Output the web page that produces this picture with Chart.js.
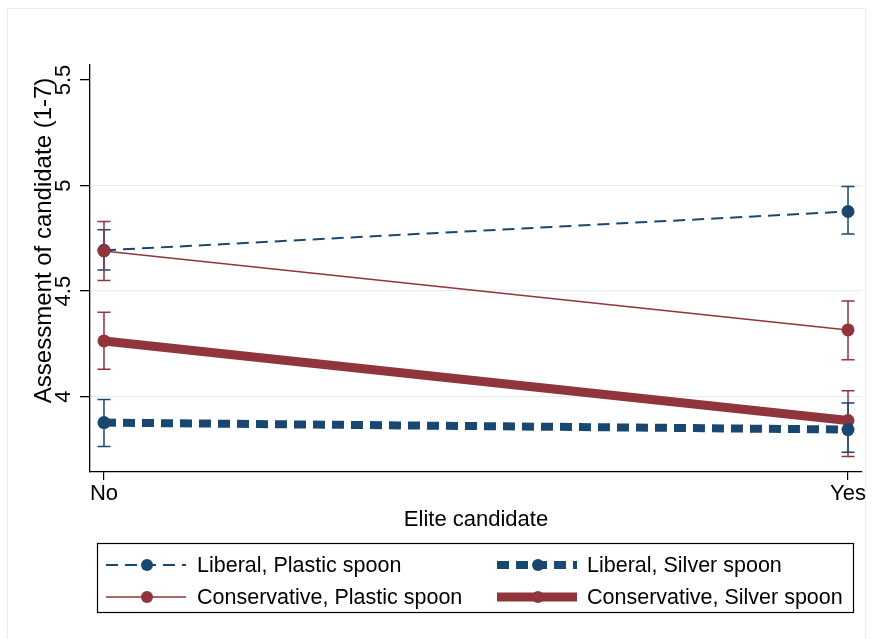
<!DOCTYPE html>
<html>
<head>
<meta charset="utf-8">
<script src="https://cdn.jsdelivr.net/npm/chart.js@4.4.1/dist/chart.umd.min.js"></script>
<style>
  body { margin: 0; background: #fff; }
  #wrap { width: 873px; height: 639px; }
</style>
</head>
<body>
<div id="wrap"><canvas id="chart" width="873" height="639"></canvas></div>
<script>
// categories on the x axis
const categories = ['No', 'Yes'];
const yTicks = [4, 4.5, 5, 5.5];

// means and 95% CI per group
const libPlastic = [4.693, 4.877];
const libPlasticLo = [4.60, 4.77];
const libPlasticHi = [4.79, 4.995];

const consPlastic = [4.69, 4.316];
const consPlasticLo = [4.55, 4.175];
const consPlasticHi = [4.83, 4.453];

const consSilver = [4.264, 3.887];
const consSilverLo = [4.13, 3.717];
const consSilverHi = [4.40, 4.028];

const libSilver = [3.877, 3.844];
const libSilverLo = [3.764, 3.736];
const libSilverHi = [3.986, 3.97];

const NAVY = '#1a476f';
const MAROON = '#90353b';
const FONT = '"Liberation Sans", Arial, Helvetica, sans-serif';

function toPoints(vals) {
    return vals.map((v, i) => ({ x: i, y: v }));
}

const series = [
    { label: 'Liberal, Plastic spoon', data: libPlastic, lo: libPlasticLo, hi: libPlasticHi, color: NAVY, width: 2, dash: [12, 7] },
    { label: 'Conservative, Plastic spoon', data: consPlastic, lo: consPlasticLo, hi: consPlasticHi, color: MAROON, width: 1.6, dash: [] },
    { label: 'Conservative, Silver spoon', data: consSilver, lo: consSilverLo, hi: consSilverHi, color: MAROON, width: 9, dash: [] },
    { label: 'Liberal, Silver spoon', data: libSilver, lo: libSilverLo, hi: libSilverHi, color: NAVY, width: 8, dash: [12, 7] }
];

// legend order as in the picture (2 columns)
const legendOrder = [0, 3, 1, 2];

const datasets = series.map((s, i) => ({
    label: s.label,
    data: toPoints(s.data),
    borderColor: s.color,
    backgroundColor: s.color,
    borderWidth: s.width,
    borderDash: s.dash,
    borderCapStyle: 'butt',
    pointRadius: 6.5,
    pointBorderWidth: 0,
    pointBackgroundColor: s.color,
    tension: 0,
    order: 4 - i
}));

const errorBars = {
    id: 'errorBars',
    beforeDatasetsDraw(chart) {
        const ctx = chart.ctx;
        const xs = chart.scales.x, ys = chart.scales.y;
        ctx.save();
        series.forEach(s => {
            ctx.strokeStyle = s.color;
            ctx.lineWidth = 1.5;
            ctx.setLineDash([]);
            s.data.forEach((v, i) => {
                const px = xs.getPixelForValue(i);
                const top = ys.getPixelForValue(s.hi[i]);
                const bot = ys.getPixelForValue(s.lo[i]);
                ctx.beginPath();
                ctx.moveTo(px, top); ctx.lineTo(px, bot);
                ctx.moveTo(px - 6.5, top); ctx.lineTo(px + 6.5, top);
                ctx.moveTo(px - 6.5, bot); ctx.lineTo(px + 6.5, bot);
                ctx.stroke();
            });
        });
        ctx.restore();
    }
};

const texts = {
    id: 'texts',
    afterDraw(chart) {
        const ctx = chart.ctx;
        const xs = chart.scales.x, ys = chart.scales.y;
        const area = chart.chartArea;
        ctx.save();
        // faint outer frame
        ctx.strokeStyle = '#ececec';
        ctx.lineWidth = 1;
        ctx.strokeRect(7.5, 8.5, 858, 632);

        ctx.fillStyle = '#000';
        ctx.font = '22px ' + FONT;
        ctx.textAlign = 'center';
        ctx.textBaseline = 'middle';
        // y tick labels, rotated
        yTicks.forEach(v => {
            const py = ys.getPixelForValue(v);
            ctx.save();
            ctx.translate(64, py);
            ctx.rotate(-Math.PI / 2);
            ctx.fillText(String(v), 0, 0);
            ctx.restore();
        });
        // y title
        ctx.save();
        ctx.font = '24px ' + FONT;
        ctx.translate(44, ys.getPixelForValue(4.74));
        ctx.rotate(-Math.PI / 2);
        ctx.fillText('Assessment of candidate (1-7)', 0, 0);
        ctx.restore();
        // x tick labels and title
        categories.forEach((c, i) => {
            ctx.fillText(c, xs.getPixelForValue(i), 494);
        });
        ctx.fillText('Elite candidate', (area.left + area.right) / 2, 520);

        // legend
        ctx.font = '21.5px ' + FONT;
        ctx.strokeStyle = '#000';
        ctx.lineWidth = 1.2;
        ctx.setLineDash([]);
        ctx.strokeRect(97.5, 543.5, 756, 69);
        const cols = [{ x0: 106, x1: 186, tx: 197 }, { x0: 497, x1: 577, tx: 587 }];
        const rows = [565, 597];
        legendOrder.forEach((si, k) => {
            const s = series[si];
            const col = cols[k % 2], row = rows[Math.floor(k / 2)];
            ctx.strokeStyle = s.color;
            ctx.lineWidth = s.width;
            ctx.lineCap = 'butt';
            ctx.setLineDash(s.dash);
            ctx.beginPath();
            ctx.moveTo(col.x0, row); ctx.lineTo(col.x1, row);
            ctx.stroke();
            ctx.setLineDash([]);
            ctx.fillStyle = s.color;
            ctx.beginPath();
            ctx.arc((col.x0 + col.x1) / 2 + 1, row, 6, 0, Math.PI * 2);
            ctx.fill();
            ctx.fillStyle = '#000';
            ctx.textAlign = 'left';
            ctx.fillText(s.label, col.tx, row + 1);
        });
        ctx.restore();
    }
};

const config = {
    type: 'line',
    data: { datasets: datasets },
    options: {
        responsive: false,
        animation: false,
        layout: { padding: { left: 0, top: 65, right: 11, bottom: 0 } },
        plugins: {
            legend: { display: false },
            tooltip: { enabled: false },
            title: { display: false }
        },
        scales: {
            x: {
                type: 'linear',
                min: -0.0188,
                max: 1.0188,
                afterBuildTicks: scale => { scale.ticks = [{ value: 0 }, { value: 1 }]; },
                afterFit: scale => { scale.height = 167; },
                ticks: { display: false },
                grid: { drawOnChartArea: false, drawTicks: true, tickLength: 8, color: '#000', tickColor: '#000', lineWidth: 1.2 },
                border: { display: true, color: '#000', width: 1.3 }
            },
            y: {
                min: 3.643,
                max: 5.571,
                afterBuildTicks: scale => { scale.ticks = yTicks.map(v => ({ value: v })); },
                afterFit: scale => { scale.width = 90; },
                ticks: { display: false },
                grid: {
                    drawTicks: true,
                    tickLength: 10,
                    tickColor: '#000',
                    lineWidth: 1.3,
                    color: ctx => (ctx.tick && ctx.tick.value === 5.5) ? 'rgba(0,0,0,0)' : '#e6eef0'
                },
                border: { display: true, color: '#000', width: 1.3 }
            }
        }
    },
    plugins: [errorBars, texts]
};

new Chart(document.getElementById('chart').getContext('2d'), config);
</script>
</body>
</html>
